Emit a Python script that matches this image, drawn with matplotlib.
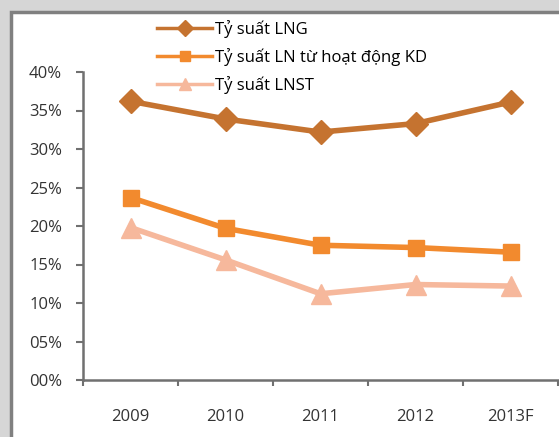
import matplotlib
matplotlib.use("Agg")
import matplotlib.pyplot as plt
from matplotlib.patches import Rectangle
from matplotlib.lines import Line2D
from matplotlib.ticker import FuncFormatter, FixedLocator

years = ["2009", "2010", "2011", "2012", "2013F"]
lng = [36.2, 33.9, 32.2, 33.3, 36.1]
ln_kd = [23.7, 19.7, 17.5, 17.2, 16.6]
lnst = [19.8, 15.6, 11.2, 12.4, 12.2]
labels = ["Tỷ suất LNG", "Tỷ suất LN từ hoạt động KD", "Tỷ suất LNST"]
colors = ["#c57330", "#f28a2e", "#f6b89c"]
markers = ["D", "s", "^"]

plt.rcParams["font.family"] = ["Open Sans", "DejaVu Sans"]

fig = plt.figure(figsize=(5.59, 4.37), dpi=100)
fig.patch.set_facecolor("#d6d6d6")

# white panel with grey border
panel = Rectangle((11 / 559, -0.05), 1.2, 1 - 12 / 437 + 0.05, transform=fig.transFigure,
                  facecolor="white", edgecolor="#808080", linewidth=2.5, zorder=-10)
fig.patches.append(panel)

ax = fig.add_axes([83 / 559, 1 - 380 / 437, (558 - 83) / 559, (380 - 72) / 437])
ax.set_facecolor("none")

x = range(len(years))
sizes = [12, 12, 14]
for vals, c, m, s in zip([lng, ln_kd, lnst], colors, markers, sizes):
    ax.plot(x, vals, color=c, lw=4, marker=m, ms=s)

ax.set_xlim(-0.5, len(years) - 0.5)
ax.set_ylim(0, 40)
ax.set_yticks(range(0, 41, 5))
ax.yaxis.set_major_formatter(FuncFormatter(lambda v, p: f"{int(v):02d}%"))
ax.set_xticks(list(x))
ax.set_xticklabels(years)
ax.xaxis.set_minor_locator(FixedLocator([i - 0.5 for i in range(len(years) + 1)]))
ax.tick_params(axis="x", which="major", length=0, pad=21, labelsize=12, colors="#333333")
ax.tick_params(axis="x", which="minor", length=4, width=1.5, color="#707070")
ax.tick_params(axis="y", length=5, width=1.5, color="#707070", labelsize=12,
               labelcolor="#333333", pad=10)

for s in ["top", "right"]:
    ax.spines[s].set_visible(False)
for s in ["left", "bottom"]:
    ax.spines[s].set_color("#707070")
    ax.spines[s].set_linewidth(1.8)

handles = [Line2D([], [], color=c, lw=2.5, marker=m, ms=ms)
           for c, m, ms in zip(colors, markers, [8, 7, 8])]
fig.legend(handles=handles, labels=labels, loc="upper left",
           bbox_to_anchor=(157 / 559, 1 - 20 / 437),
           frameon=False, fontsize=12, handlelength=3.3, handletextpad=0.2,
           labelspacing=0.6, borderaxespad=0, borderpad=0)

fig.savefig("out.png", dpi=100, facecolor=fig.get_facecolor())
